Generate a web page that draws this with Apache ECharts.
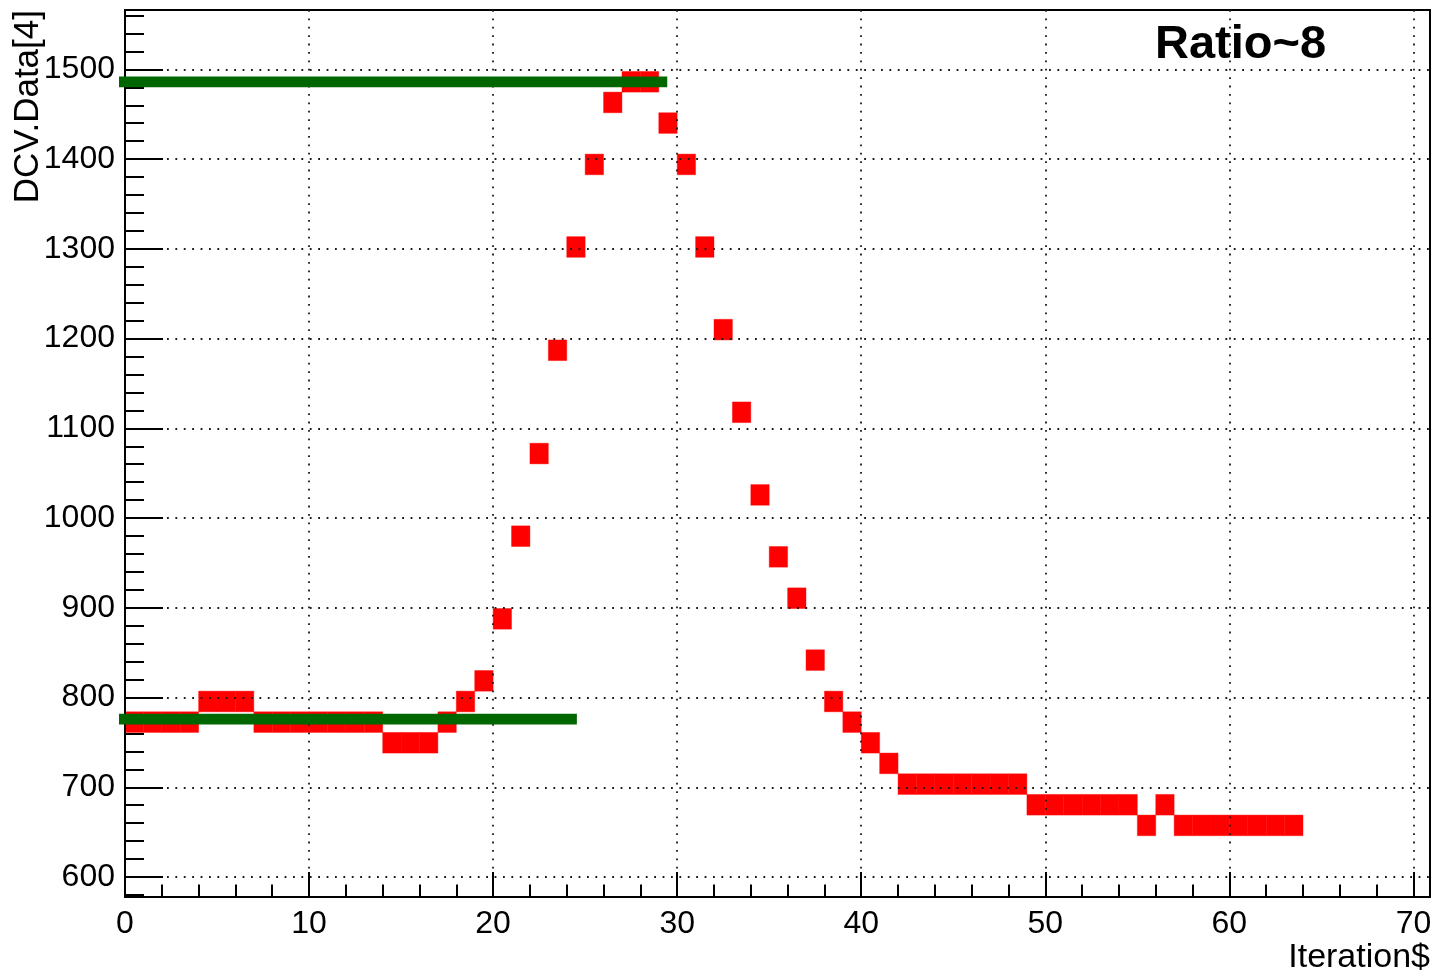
<!DOCTYPE html>
<html>
<head>
<meta charset="utf-8">
<title>DCV.Data[4] vs Iteration$</title>
<script src="https://cdn.jsdelivr.net/npm/echarts@6/dist/echarts.min.js"></script>
<style>
  html, body { margin: 0; padding: 0; background: #ffffff; }
  #chart { width: 1435px; height: 977px; }
</style>
</head>
<body>
<div id="chart"></div>
<script>
// DCV.Data[4] for each iteration (centre of the occupied y bin)
const dcvValues = [
  772.6, 772.6, 772.6, 772.6, 795.6, 795.6, 795.6, 772.6, 772.6, 772.6,
  772.6, 772.6, 772.6, 772.6, 749.6, 749.6, 749.6, 772.6, 795.6, 818.6,
  887.7, 979.8, 1071.9, 1187.0, 1302.1, 1394.1, 1463.2, 1486.2, 1486.2, 1440.2,
  1394.1, 1302.1, 1210.0, 1117.9, 1025.8, 956.8, 910.7, 841.7, 795.6, 772.6,
  749.6, 726.6, 703.5, 703.5, 703.5, 703.5, 703.5, 703.5, 703.5, 680.5,
  680.5, 680.5, 680.5, 680.5, 680.5, 657.5, 680.5, 657.5, 657.5, 657.5,
  657.5, 657.5, 657.5, 657.5
];
const iterations = dcvValues.map((_, i) => i);
const binHeight = 23.02;   // y bin size of the 2D histogram
const binWidth = 1;        // one bin per iteration

// Horizontal reference levels (green)
const refLevels = [1486, 776];
const refStarts = [-0.34, -0.34];
const refEnds = [29.46, 24.55];

// Axis ranges and tick labels
const xRange = [0, 70.9];
const yRange = [577.7, 1566.2];
const xTicks = [0, 10, 20, 30, 40, 50, 60, 70];
const xTickLabels = ['0', '10', '20', '30', '40', '50', '60', '70'];
const yTicks = [600, 700, 800, 900, 1000, 1100, 1200, 1300, 1400, 1500];
const yTickLabels = ['600', '700', '800', '900', '1000', '1100', '1200', '1300', '1400', '1500'];

const xMinorTicks = [];
for (let v = 0; v <= 70; v += 2) xMinorTicks.push(v);
const yMinorTicks = [];
for (let v = 580; v <= 1560; v += 20) yMinorTicks.push(v);

const FONT = "'Liberation Sans', Arial, Helvetica, sans-serif";
const dotted = { color: '#1a1a1a', width: 1.8, type: [1.8, 6.6] };

const chart = echarts.init(document.getElementById('chart'), null, { renderer: 'canvas' });

chart.setOption({
  animation: false,
  backgroundColor: '#ffffff',
  grid: {
    left: 125, right: 5, top: 10, bottom: 80,
    show: true, borderColor: '#000', borderWidth: 2, backgroundColor: 'transparent'
  },
  xAxis: [
    {
      type: 'value', position: 'bottom', min: xRange[0], max: xRange[1], z: 3,
      axisLine: { show: true, onZero: false, lineStyle: { color: '#000', width: 2 } },
      axisTick: { show: true, inside: true, length: 25, customValues: xTicks, lineStyle: { color: '#000', width: 2 } },
      axisLabel: {
        show: true, customValues: xTicks, margin: 11, color: '#000', fontSize: 32, fontFamily: FONT,
        formatter: v => xTickLabels[xTicks.indexOf(v)] ?? ''
      },
      splitLine: { show: true, lineStyle: dotted }
    },
    {
      type: 'value', position: 'bottom', min: xRange[0], max: xRange[1], z: 3,
      axisLine: { show: false, onZero: false },
      axisTick: { show: true, inside: true, length: 12.5, customValues: xMinorTicks, lineStyle: { color: '#000', width: 2 } },
      axisLabel: { show: false },
      splitLine: { show: false }
    }
  ],
  yAxis: [
    {
      type: 'value', position: 'left', min: yRange[0], max: yRange[1], splitNumber: 10, z: 3,
      axisLine: { show: true, onZero: false, lineStyle: { color: '#000', width: 2 } },
      axisTick: { show: true, inside: true, length: 38, customValues: yTicks, lineStyle: { color: '#000', width: 2 } },
      axisLabel: {
        show: true, customValues: yTicks, margin: 10, color: '#000', fontSize: 32, fontFamily: FONT,
        formatter: v => yTickLabels[yTicks.indexOf(v)] ?? ''
      },
      splitLine: { show: true, lineStyle: dotted }
    },
    {
      type: 'value', position: 'left', min: yRange[0], max: yRange[1], z: 3,
      axisLine: { show: false, onZero: false },
      axisTick: { show: true, inside: true, length: 19, customValues: yMinorTicks, lineStyle: { color: '#000', width: 2 } },
      axisLabel: { show: false },
      splitLine: { show: false }
    }
  ],
  series: [
    {
      type: 'custom',
      name: 'DCV.Data[4]',
      xAxisIndex: 0, yAxisIndex: 0, z: 1,
      data: iterations.map(i => [i, dcvValues[i]]),
      renderItem(params, api) {
        const i = api.value(0);
        const v = api.value(1);
        const p0 = api.coord([i, v + binHeight / 2]);
        const p1 = api.coord([i + binWidth, v - binHeight / 2]);
        return {
          type: 'rect',
          shape: { x: p0[0], y: p0[1], width: p1[0] - p0[0], height: p1[1] - p0[1] },
          style: { fill: '#ff0000', stroke: '#ff0000', lineWidth: 0.4 }
        };
      }
    },
    ...refLevels.map((lvl, k) => ({
      type: 'line',
      xAxisIndex: 0, yAxisIndex: 0, z: 6,
      clip: false,
      symbol: 'none',
      silent: true,
      lineStyle: { color: '#006600', width: 10.7, cap: 'butt' },
      data: [[refStarts[k], lvl], [refEnds[k], lvl]]
    }))
  ],
  graphic: [
    {
      type: 'text', x: 28, y: 10, rotation: Math.PI / 2, z: 10,
      style: { text: 'DCV.Data[4]', fill: '#000', font: '35px ' + FONT, align: 'right', verticalAlign: 'middle' }
    },
    {
      type: 'text', x: 1430, y: 958, z: 10,
      style: { text: 'Iteration$', fill: '#000', font: '34px ' + FONT, align: 'right', verticalAlign: 'middle' }
    },
    {
      type: 'text', x: 1155, y: 45, z: 10,
      style: { text: 'Ratio~8', fill: '#000', font: 'bold 47px ' + FONT, align: 'left', verticalAlign: 'middle' }
    }
  ]
});
</script>
</body>
</html>
